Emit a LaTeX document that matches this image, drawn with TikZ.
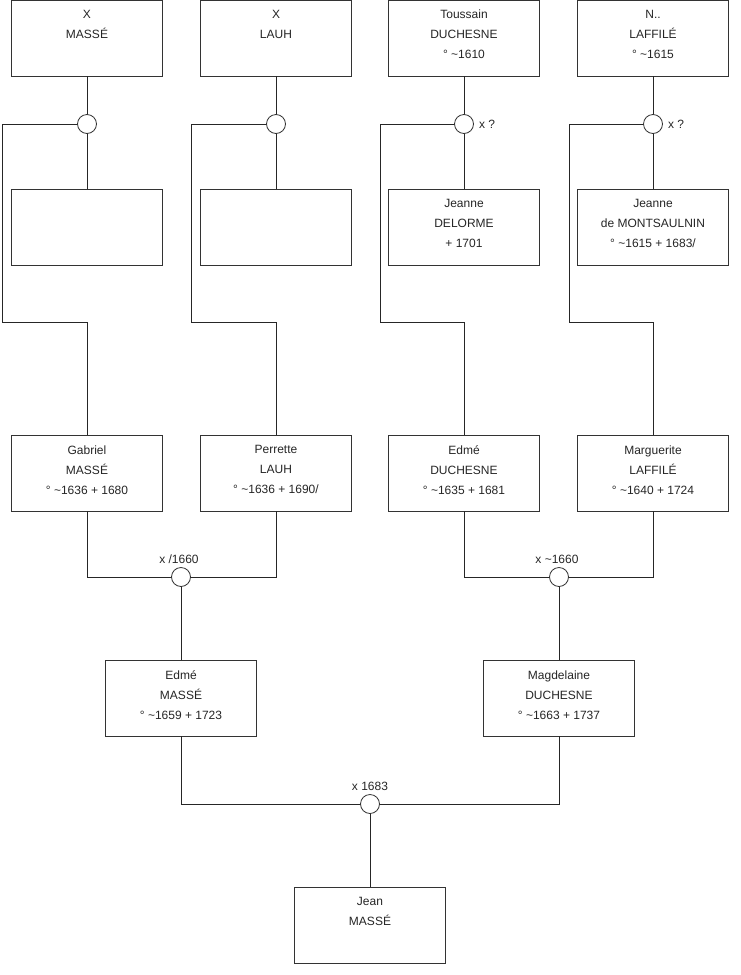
\documentclass[tikz,border=0pt]{standalone}
\usepackage{fontspec}
\setmainfont{Liberation Sans}
\usepackage{tikz}
\usetikzlibrary{positioning}

\begin{document}
\begin{tikzpicture}[
  x=1pt, y=-1pt,
  pers/.style={rectangle, draw=black!80, fill=white, line width=0.8pt, minimum width=151pt, minimum height=76pt, inner sep=0pt},
  names/.style={anchor=north, align=center, inner sep=0pt, yshift=-10.5pt, font=\fontsize{12}{20}\selectfont, text=black!85},
  wed/.style={circle, draw=black!80, fill=white, line width=0.8pt, minimum size=19pt, inner sep=0pt},
  wlbl/.style={font=\fontsize{12}{14}\selectfont, text=black!85, inner sep=1pt},
  link/.style={draw=black!85, line width=0.8pt},
]
\useasboundingbox (0,0) rectangle (740,975);

% grandparents
\node[pers, label={[names]north:X\\MASSÉ}] (xmasse) at (87,38) {};
\node[pers, label={[names]north:X\\LAUH}] (xlauh) at (276,38) {};
\node[pers, label={[names]north:Toussain\\DUCHESNE\\° \textasciitilde1610}] (tduchesne) at (464,38) {};
\node[pers, label={[names]north:N..\\LAFFILÉ\\° \textasciitilde1615}] (nlaffile) at (653,38) {};

\node[wed] (mgx) at (87,124) {};
\node[wed] (mlx) at (276,124) {};
\node[wed, label={[wlbl, label distance=4pt]right:x ?}] (mdt) at (464,124) {};
\node[wed, label={[wlbl, label distance=4pt]right:x ?}] (mfn) at (653,124) {};

\node[pers] (wmasse) at (87,227) {};
\node[pers] (wlauh) at (276,227) {};
\node[pers, label={[names]north:Jeanne\\DELORME\\+ 1701}] (jdelorme) at (464,227) {};
\node[pers, label={[names]north:Jeanne\\de MONTSAULNIN\\° \textasciitilde1615 + 1683/}] (jmontsaulnin) at (653,227) {};

% parents
\node[pers, label={[names]north:Gabriel\\MASSÉ\\° \textasciitilde1636 + 1680}] (gmasse) at (87,473) {};
\node[pers, label={[names]north:Perrette\\LAUH\\° \textasciitilde1636 + 1690/}] (plauh) at (276,473) {};
\node[pers, label={[names]north:Edmé\\DUCHESNE\\° \textasciitilde1635 + 1681}] (educhesne) at (464,473) {};
\node[pers, label={[names]north:Marguerite\\LAFFILÉ\\° \textasciitilde1640 + 1724}] (mlaffile) at (653,473) {};

\node[wed, label={[wlbl, label distance=2pt, xshift=-2pt]above:x /1660}] (mgp) at (181,577) {};
\node[wed, label={[wlbl, label distance=2pt, xshift=-2pt]above:x \textasciitilde1660}] (mem) at (559,577) {};

\node[pers, label={[names]north:Edmé\\MASSÉ\\° \textasciitilde1659 + 1723}] (emasse) at (181,698) {};
\node[pers, label={[names]north:Magdelaine\\DUCHESNE\\° \textasciitilde1663 + 1737}] (mduchesne) at (559,698) {};

\node[wed, label={[wlbl, label distance=2pt]above:x 1683}] (mem2) at (370,804) {};

\node[pers, label={[names]north:Jean\\MASSÉ}] (jmasse) at (370,925) {};

% bends of the descent lines
\coordinate (kg) at (2,322);
\coordinate (kp) at (191,322);
\coordinate (ke) at (380,322);
\coordinate (km) at (569,322);

\path[link] (xmasse) -- (mgx) -- (wmasse);
\path[link] (xlauh) -- (mlx) -- (wlauh);
\path[link] (tduchesne) -- (mdt) -- (jdelorme);
\path[link] (nlaffile) -- (mfn) -- (jmontsaulnin);

\path[link] (mgx.west) -| (kg) -| (gmasse.north);
\path[link] (mlx.west) -| (kp) -| (plauh.north);
\path[link] (mdt.west) -| (ke) -| (educhesne.north);
\path[link] (mfn.west) -| (km) -| (mlaffile.north);

\path[link] (gmasse.south) |- (mgp.west);
\path[link] (mgp.east) -| (plauh.south);
\path[link] (educhesne.south) |- (mem.west);
\path[link] (mem.east) -| (mlaffile.south);
\path[link] (mgp) -- (emasse);
\path[link] (mem) -- (mduchesne);

\path[link] (emasse.south) |- (mem2.west);
\path[link] (mem2.east) -| (mduchesne.south);
\path[link] (mem2) -- (jmasse);
\end{tikzpicture}
\end{document}
